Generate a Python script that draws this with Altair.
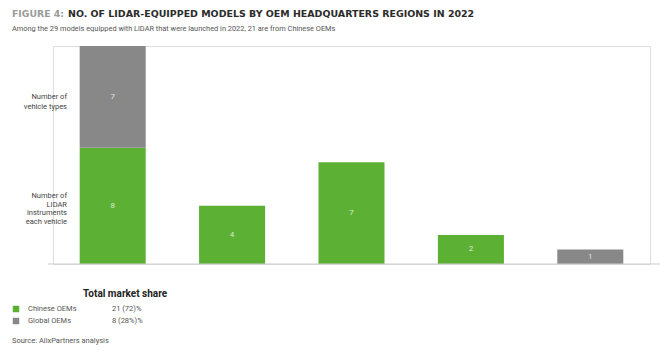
import altair as alt
import pandas as pd

# ---- data ----
regions = ["Region 1", "Region 2", "Region 3", "Region 4", "Region 5"]
chinese = [8, 4, 7, 2, 0]
global_ = [7, 0, 0, 0, 1]
series_names = ["Chinese OEMs", "Global OEMs"]
share_labels = ["21 (72)%", "8 (28%)%"]
colors = ["#5cb034", "#888888"]

rows = []
for i, r in enumerate(regions):
    base = 0
    for s, vals in zip(series_names, [chinese, global_]):
        v = vals[i]
        if v > 0:
            rows.append({"region": r, "series": s, "value": v,
                         "y0": base, "y1": base + v, "mid": base + v / 2,
                         "label": str(v)})
        base += v
df = pd.DataFrame(rows)

W, H = 597, 218
xscale = alt.Scale(domain=regions, paddingInner=0.447, paddingOuter=0.2235)
yscale = alt.Scale(domain=[0, 15], nice=False)
cscale = alt.Scale(domain=series_names, range=colors)

bars = alt.Chart(df).mark_bar().encode(
    x=alt.X("region:N", scale=xscale, axis=None, sort=regions),
    y=alt.Y("y0:Q", scale=yscale, axis=None),
    y2="y1:Q",
    color=alt.Color("series:N", scale=cscale, legend=None),
)

labels = alt.Chart(df).mark_text(color="#ffffff", opacity=0.75, fontSize=8,
                                 font="Roboto", baseline="middle").encode(
    x=alt.X("region:N", scale=xscale, axis=None, sort=regions),
    y=alt.Y("mid:Q", scale=yscale, axis=None),
    text="label:N",
)

baseline = alt.Chart(pd.DataFrame({"a": [0]})).mark_rule(color="#cccccc", strokeWidth=1).encode(
    x=alt.value(-5), x2=alt.value(W + 10), y=alt.value(H)
)

def txt(lines, x, y, size, color, weight="normal", align="left", font="Roboto", lh=None):
    d = pd.DataFrame({"t": [lines], "k": [0]})
    kw = dict(align=align, baseline="middle", fontSize=size, color=color,
              fontWeight=weight, font=font)
    if lh:
        kw["lineHeight"] = lh
    return alt.Chart(d).mark_text(**kw).encode(
        x=alt.value(x), y=alt.value(y), text="t")

ox, oy = 53, 46  # plot origin in page
title1 = txt("FIGURE 4:", 12 - ox, 14 - oy, 9.3, "#9a9a9a", "bold", font="DejaVu Sans")
title2 = txt("NO. OF LIDAR-EQUIPPED MODELS BY OEM HEADQUARTERS REGIONS IN 2022",
             68 - ox, 14 - oy, 9.45, "#2b2b2b", "bold", font="DejaVu Sans")
subtitle = txt("Among the 29 models equipped with LiDAR that were launched in 2022, 21 are from Chinese OEMs",
               12 - ox, 29 - oy, 7.4, "#555555")
lab1 = txt(["Number of", "vehicle types"], 67 - ox, 97 - oy, 7.5, "#444444", align="right", lh=9.5)
lab2 = txt(["Number of", "LIDAR", "instruments", "each vehicle"], 67 - ox, 196 - oy, 7.5, "#444444",
           align="right", lh=8.5)

leg_title = txt("Total market share", 83 - ox, 294 - oy, 10, "#222222", "bold")
leg_df = pd.DataFrame({"series": series_names, "share": share_labels,
                       "yy": [309 - oy, 321 - oy]})
leg_sq = alt.Chart(leg_df).mark_square(size=42, opacity=1).encode(
    x=alt.value(16 - ox), y=alt.Y("yy:Q", scale=None),
    color=alt.Color("series:N", scale=cscale, legend=None))
leg_name = alt.Chart(leg_df).mark_text(align="left", baseline="middle", fontSize=7.5,
                                       font="Roboto", color="#555555").encode(
    x=alt.value(28 - ox), y=alt.Y("yy:Q", scale=None), text="series:N")
leg_share = alt.Chart(leg_df).mark_text(align="left", baseline="middle", fontSize=7.5,
                                        font="Roboto", color="#555555").encode(
    x=alt.value(112 - ox), y=alt.Y("yy:Q", scale=None), text="share:N")
source = txt("Source:  AlixPartners analysis", 12 - ox, 341 - oy, 7.5, "#555555")

chart = alt.layer(bars, labels, baseline, title1, title2, subtitle, lab1, lab2,
                  leg_title, leg_sq, leg_name, leg_share, source).resolve_scale(
    y="independent"
).properties(
    width=W, height=H,
    autosize=alt.AutoSizeParams(type="none"),
    padding={"left": ox, "top": oy, "right": 670 - ox - W, "bottom": 352 - oy - H},
).configure_view(stroke=None).configure(background="white")

chart.save("out.html", embed_options={"renderer": "svg", "actions": False})
